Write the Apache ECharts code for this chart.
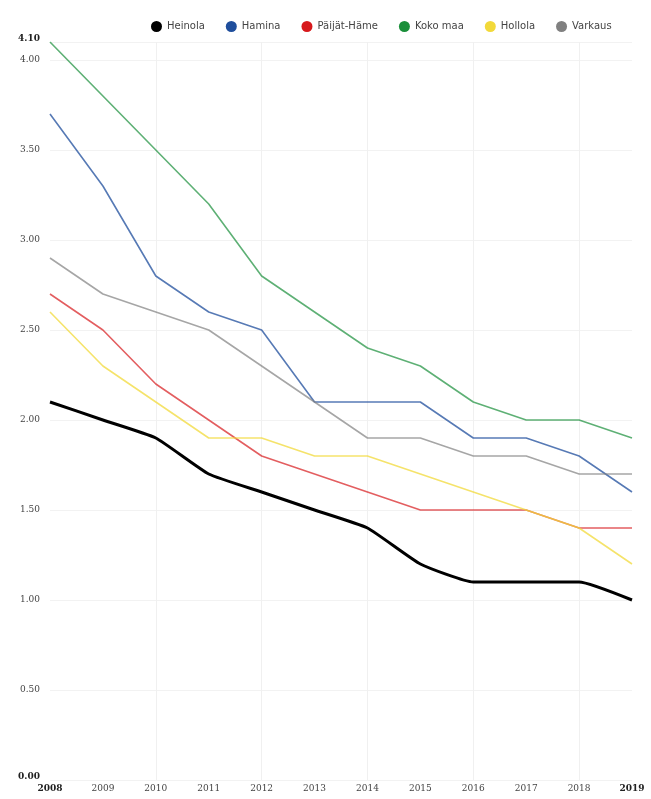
<!DOCTYPE html>
<html><head><meta charset="utf-8">
<script src="https://cdn.jsdelivr.net/npm/echarts@6/dist/echarts.min.js"></script>
<style>html,body{margin:0;padding:0;background:#fff}#c{width:651px;height:799px}</style>
</head><body><div id="c"></div>
<script>
const years = ['2008','2009','2010','2011','2012','2013','2014','2015','2016','2017','2018','2019'];
const heinola = [2.1,2.0,1.9,1.7,1.6,1.5,1.4,1.2,1.1,1.1,1.1,1.0];
const hamina = [3.7,3.3,2.8,2.6,2.5,2.1,2.1,2.1,1.9,1.9,1.8,1.6];
const paijatHame = [2.7,2.5,2.2,2.0,1.8,1.7,1.6,1.5,1.5,1.5,1.4,1.4];
const kokoMaa = [4.1,3.8,3.5,3.2,2.8,2.6,2.4,2.3,2.1,2.0,2.0,1.9];
const hollola = [2.6,2.3,2.1,1.9,1.9,1.8,1.8,1.7,1.6,1.5,1.4,1.2];
const varkaus = [2.9,2.7,2.6,2.5,2.3,2.1,1.9,1.9,1.8,1.8,1.7,1.7];
const seriesNames = ['Heinola','Hamina','Päijät-Häme','Koko maa','Hollola','Varkaus'];
const seriesData = [heinola, hamina, paijatHame, kokoMaa, hollola, varkaus];
const colors = ['#000000','#1f4e9c','#d7191c','#1a8f3a','#f2d93a','#808080'];
const widths = [3,1.6,1.6,1.6,1.6,1.6];
const opac = [1,0.75,0.7,0.7,0.75,0.7];

const chart = echarts.init(document.getElementById('c'));
chart.setOption({
  animation:false,
  color: colors,
  legend:{
    left:146, top:16, icon:'circle', itemWidth:11, itemHeight:11, itemGap:21,
    textStyle:{fontSize:10, color:'#444', fontFamily:'DejaVu Sans'},
    data: seriesNames
  },
  grid:{left:50, right:19, top:42, bottom:19, containLabel:false},
  xAxis:{
    type:'category', data: years, boundaryGap:false,
    axisLine:{show:false}, axisTick:{show:false},
    axisLabel:{
      fontSize:9, color:'#444', margin:4, interval:0, fontFamily:'DejaVu Serif',
      formatter:(v,i)=> (i===0||i===years.length-1) ? '{b|'+v+'}' : v,
      rich:{b:{fontWeight:'bold', fontSize:9, color:'#222', fontFamily:'DejaVu Serif'}}
    },
    splitLine:{show:true, interval:(i)=> i>0 && i%2===0, lineStyle:{color:'#f0f0f0', width:1}}
  },
  yAxis:{
    type:'value', min:0, max:4.1, interval:0.5,
    axisLine:{show:false}, axisTick:{show:false},
    axisLabel:{
      fontSize:9, color:'#444', margin:10, showMaxLabel:true, fontFamily:'DejaVu Serif',
      formatter:(v)=> (Math.abs(v-4.1)<1e-6 || v===0) ? '{b|'+v.toFixed(2)+'}' : v.toFixed(2),
      rich:{b:{fontWeight:'bold', fontSize:9, color:'#222', fontFamily:'DejaVu Serif', padding:[0,0,6,0]}}
    },
    splitLine:{lineStyle:{color:'#f2f2f2', width:1}}
  },
  series: seriesData.map((d,i)=>({
    name: seriesNames[i], type:'line', data:d, symbol:'none', smooth: i===0 ? 0.15 : false,
    lineStyle:{width:widths[i], color:colors[i], opacity:opac[i]},
    itemStyle:{color:colors[i]}, z: i===0?5:2
  }))
});
</script></body></html>
